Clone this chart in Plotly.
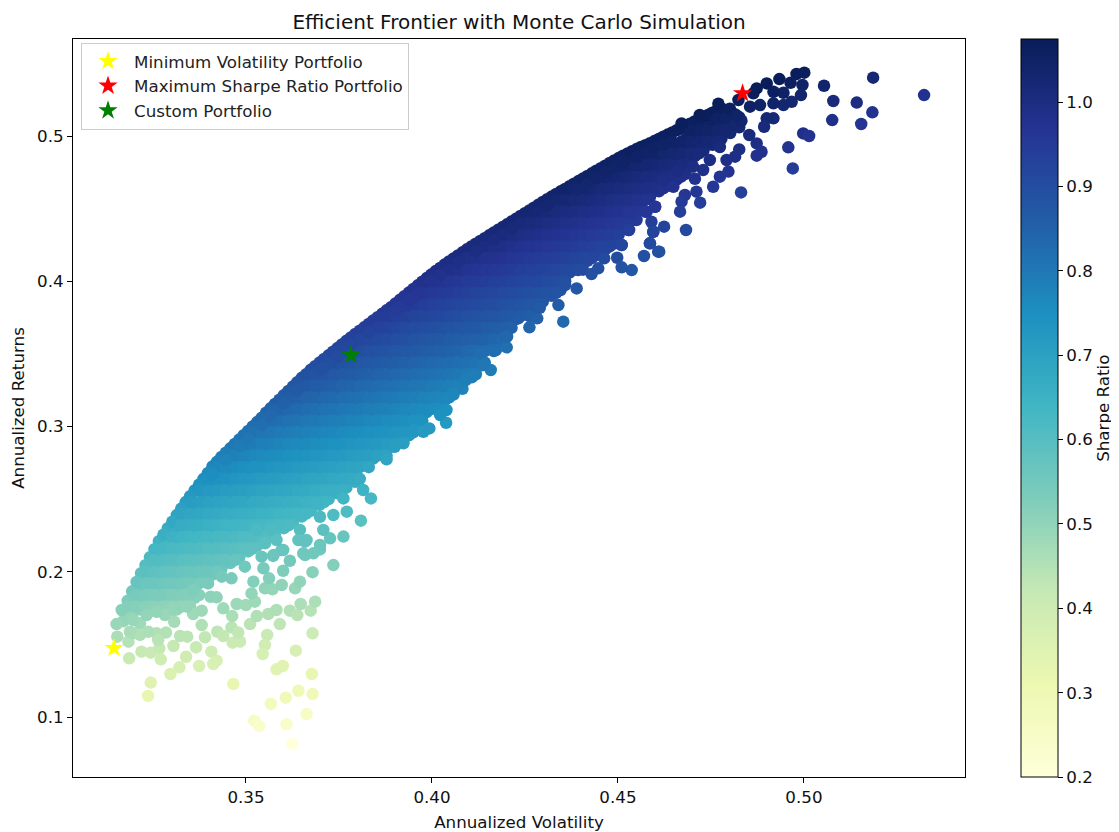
import plotly.graph_objects as go

risk_free = 0.01

body_vol = [.3170,.3194,.3218,.3242,.3266,.3290,.3314,.3338,.3362,.3386,.3410,.3434,.3458,.3482,.3506,.3530,.3554,.3578,.3602,.3626,.3650,.3674,.3698,.3722,.3746,.3770,.3794,.3818,.3842,.3866,.3890,.3914,.3938,.3962,.3986,.4010,.4034,.4058,.4082,.4106,.4130,.4154,.4178,.4202,.4226,.4250,.4274,.4298,.4322,.4346,.4370,.4394,.4418,.4442,.4466,.4490,.4514,.4538,.4562,.4586,.4610,.4634,.4658,.4682,.4706,.4730,.4754,.4778,.4802,.4826]

body_ret = [
[.173,.166],
[.1865,.178,.170],
[.199,.190,.182,.174],
[.210,.202,.194,.186,.178],
[.221,.214,.206,.198,.190,.182,.174],
[.230,.218,.210,.202,.194,.186,.178],
[.239,.230,.222,.214,.206,.198,.190,.182,.174],
[.248,.242,.234,.226,.218,.210,.202,.194,.186,.178],
[.256,.246,.238,.230,.222,.214,.206,.198,.190,.182],
[.264,.258,.250,.242,.234,.226,.218,.210,.202,.194],
[.2725,.262,.254,.246,.238,.230,.222,.214,.206,.198],
[.279,.274,.266,.258,.250,.242,.234,.226,.218,.210,.202],
[.285,.278,.270,.262,.254,.246,.238,.230,.222,.214,.206],
[.291,.282,.274,.266,.258,.250,.242,.234,.226,.218,.210],
[.297,.286,.278,.270,.262,.254,.246,.238,.230,.222,.214],
[.303,.298,.290,.282,.274,.266,.258,.250,.242,.234,.226,.218],
[.3095,.302,.294,.286,.278,.270,.262,.254,.246,.238,.230,.222],
[.3155,.306,.298,.290,.282,.274,.266,.258,.250,.242,.234,.226],
[.3215,.310,.302,.294,.286,.278,.270,.262,.254,.246,.238,.230],
[.3275,.322,.314,.306,.298,.290,.282,.274,.266,.258,.250,.242,.234],
[.3335,.326,.318,.310,.302,.294,.286,.278,.270,.262,.254,.246,.238],
[.339,.330,.322,.314,.306,.298,.290,.282,.274,.266,.258,.250,.242],
[.344,.334,.326,.318,.310,.302,.294,.286,.278,.270,.262,.254,.246],
[.349,.338,.330,.322,.314,.306,.298,.290,.282,.274,.266,.258,.250],
[.354,.342,.334,.326,.318,.310,.302,.294,.286,.278,.270,.262,.254],
[.359,.354,.346,.338,.330,.322,.314,.306,.298,.290,.282,.274,.266,.258],
[.3637,.358,.350,.342,.334,.326,.318,.310,.302,.294,.286,.278,.270,.262],
[.3683,.362,.354,.346,.338,.330,.322,.314,.306,.298,.290,.282,.274],
[.373,.366,.358,.350,.342,.334,.326,.318,.310,.302,.294,.286,.278],
[.3776,.370,.362,.354,.346,.338,.330,.322,.314,.306,.298,.290,.282],
[.3822,.374,.366,.358,.350,.342,.334,.326,.318,.310,.302,.294,.286],
[.3872,.378,.370,.362,.354,.346,.338,.330,.322,.314,.306,.298,.290],
[.3922,.382,.374,.366,.358,.350,.342,.334,.326,.318,.310,.302,.294],
[.3972,.386,.378,.370,.362,.354,.346,.338,.330,.322,.314,.306,.298],
[.4022,.398,.390,.382,.374,.366,.358,.350,.342,.334,.326,.318,.310],
[.407,.402,.394,.386,.378,.370,.362,.354,.346,.338,.330,.322,.314],
[.4115,.406,.398,.390,.382,.374,.366,.358,.350,.342,.334,.326,.318],
[.4157,.410,.402,.394,.386,.378,.370,.362,.354,.346,.338,.330,.322],
[.4199,.414,.406,.398,.390,.382,.374,.366,.358,.350,.342,.334,.326],
[.424,.418,.410,.402,.394,.386,.378,.370,.362,.354,.346,.338],
[.4278,.422,.414,.406,.398,.390,.382,.374,.366,.358,.350,.342],
[.4316,.426,.418,.410,.402,.394,.386,.378,.370,.362,.354],
[.4354,.430,.422,.414,.406,.398,.390,.382,.374,.366,.358],
[.4392,.434,.426,.418,.410,.402,.394,.386,.378,.370,.362],
[.443,.438,.430,.422,.414,.406,.398,.390,.382,.374],
[.4469,.442,.434,.426,.418,.410,.402,.394,.386,.378],
[.4507,.446,.438,.430,.422,.414,.406,.398,.390,.382],
[.4546,.450,.442,.434,.426,.418,.410,.402,.394,.386],
[.4583,.454,.446,.438,.430,.422,.414,.406,.398,.390],
[.4619,.458,.450,.442,.434,.426,.418,.410,.402,.394],
[.4654,.462,.454,.446,.438,.430,.422,.414,.406],
[.469,.458,.450,.442,.434,.426,.418,.410],
[.4725,.462,.454,.446,.438,.430,.422,.414],
[.4761,.466,.458,.450,.442,.434,.426,.418],
[.4796,.470,.462,.454,.446,.438,.430,.422],
[.4832,.474,.466,.458,.450,.442,.434,.426],
[.4865,.478,.470,.462,.454,.446,.438],
[.4895,.482,.474,.466,.458,.450,.442],
[.4925,.486,.478,.470,.462,.454],
[.495,.490,.482,.474,.466,.458],
[.498,.494,.486,.478,.470,.462],
[.501,.490,.482,.474,.466],
[.504,.494,.486,.478,.470],
[.507,.498,.490,.482,.474],
[.510,.502,.494,.486],
[.513,.506,.498,.490],
[.516,.510,.502,.494],
[.519,.514,.506,.498],
[.517,.510,.502],
[.513,.506],
]

mid_vol = [.3182,.3206,.3230,.3254,.3278,.3302,.3326,.3350,.3374,.3398,.3422,.3446,.3470,.3494,.3518,.3542,.3566,.3590,.3614,.3638,.3662,.3686,.3710,.3734,.3758,.3782,.3806,.3830,.3854,.3878,.3902,.3926,.3950,.3974,.3998,.4022,.4046,.4070,.4094,.4118,.4142,.4166,.4190,.4214,.4238,.4262,.4286,.4310,.4334,.4358,.4382,.4406,.4430,.4454,.4478,.4502,.4526,.4550,.4574,.4598,.4622,.4646,.4670,.4694,.4718,.4742,.4766,.4790,.4814]

mid_ret = [
[.180,.176,.168],
[.193,.184,.176],
[.2045,.200,.192,.184,.176],
[.2155,.208,.200,.192,.184,.176],
[.2255,.216,.208,.200,.192,.184,.176],
[.2345,.224,.216,.208,.200,.192,.184,.176],
[.2435,.240,.232,.224,.216,.208,.200,.192,.184,.176],
[.252,.248,.240,.232,.224,.216,.208,.200,.192,.184,.176],
[.260,.256,.248,.240,.232,.224,.216,.208,.200,.192,.184],
[.268,.264,.256,.248,.240,.232,.224,.216,.208,.200,.192],
[.2757,.272,.264,.256,.248,.240,.232,.224,.216,.208,.200],
[.282,.272,.264,.256,.248,.240,.232,.224,.216,.208],
[.288,.280,.272,.264,.256,.248,.240,.232,.224,.216,.208],
[.294,.288,.280,.272,.264,.256,.248,.240,.232,.224,.216],
[.300,.296,.288,.280,.272,.264,.256,.248,.240,.232,.224,.216],
[.306,.296,.288,.280,.272,.264,.256,.248,.240,.232,.224],
[.3125,.304,.296,.288,.280,.272,.264,.256,.248,.240,.232,.224],
[.3185,.312,.304,.296,.288,.280,.272,.264,.256,.248,.240,.232],
[.3245,.320,.312,.304,.296,.288,.280,.272,.264,.256,.248,.240,.232],
[.3305,.320,.312,.304,.296,.288,.280,.272,.264,.256,.248,.240],
[.336,.328,.320,.312,.304,.296,.288,.280,.272,.264,.256,.248,.240],
[.3415,.336,.328,.320,.312,.304,.296,.288,.280,.272,.264,.256,.248],
[.3465,.336,.328,.320,.312,.304,.296,.288,.280,.272,.264,.256,.248],
[.3515,.344,.336,.328,.320,.312,.304,.296,.288,.280,.272,.264,.256],
[.3565,.352,.344,.336,.328,.320,.312,.304,.296,.288,.280,.272,.264,.256],
[.3613,.352,.344,.336,.328,.320,.312,.304,.296,.288,.280,.272,.264],
[.366,.360,.352,.344,.336,.328,.320,.312,.304,.296,.288,.280,.272,.264],
[.3706,.360,.352,.344,.336,.328,.320,.312,.304,.296,.288,.280,.272],
[.3753,.368,.360,.352,.344,.336,.328,.320,.312,.304,.296,.288,.280],
[.380,.376,.368,.360,.352,.344,.336,.328,.320,.312,.304,.296,.288,.280],
[.3847,.376,.368,.360,.352,.344,.336,.328,.320,.312,.304,.296,.288],
[.3897,.384,.376,.368,.360,.352,.344,.336,.328,.320,.312,.304,.296],
[.3947,.384,.376,.368,.360,.352,.344,.336,.328,.320,.312,.304,.296],
[.3997,.392,.384,.376,.368,.360,.352,.344,.336,.328,.320,.312,.304],
[.4046,.400,.392,.384,.376,.368,.360,.352,.344,.336,.328,.320,.312],
[.4092,.400,.392,.384,.376,.368,.360,.352,.344,.336,.328,.320,.312],
[.4136,.408,.400,.392,.384,.376,.368,.360,.352,.344,.336,.328,.320],
[.4178,.408,.400,.392,.384,.376,.368,.360,.352,.344,.336,.328],
[.422,.416,.408,.400,.392,.384,.376,.368,.360,.352,.344,.336],
[.4259,.416,.408,.400,.392,.384,.376,.368,.360,.352,.344,.336],
[.4297,.424,.416,.408,.400,.392,.384,.376,.368,.360,.352,.344],
[.4335,.424,.416,.408,.400,.392,.384,.376,.368,.360,.352],
[.4373,.432,.424,.416,.408,.400,.392,.384,.376,.368,.360],
[.4411,.432,.424,.416,.408,.400,.392,.384,.376,.368],
[.445,.440,.432,.424,.416,.408,.400,.392,.384,.376],
[.4488,.440,.432,.424,.416,.408,.400,.392,.384,.376],
[.4526,.448,.440,.432,.424,.416,.408,.400,.392,.384],
[.4565,.448,.440,.432,.424,.416,.408,.400,.392],
[.4601,.456,.448,.440,.432,.424,.416,.408,.400,.392],
[.4636,.456,.448,.440,.432,.424,.416,.408,.400],
[.4672,.464,.456,.448,.440,.432,.424,.416,.408],
[.4707,.464,.456,.448,.440,.432,.424,.416,.408],
[.4743,.464,.456,.448,.440,.432,.424,.416],
[.4778,.472,.464,.456,.448,.440,.432,.424],
[.4814,.472,.464,.456,.448,.440,.432,.424],
[.4848,.480,.472,.464,.456,.448,.440,.432],
[.488,.480,.472,.464,.456,.448,.440],
[.491,.480,.472,.464,.456,.448],
[.4937,.488,.480,.472,.464,.456],
[.4965,.488,.480,.472,.464],
[.4995,.488,.480,.472,.464],
[.5025,.496,.488,.480,.472],
[.5055,.496,.488,.480,.472],
[.5085,.504,.496,.488],
[.5115,.504,.496,.488],
[.5145,.504,.496],
[.5175,.512,.504,.496],
[.518,.512,.504],
[.515,.508],
]

edge_vol = [.3410,.3482,.3506,.3554,.3578,.3602,.3698,.3722,.3746,.3914,.3938,.3962,.4394,.4418,.4442,.4466,.4490,.4514,.3566,.3638,.3710,.3782,.3830,.3902,.3950,.4022,.4070,.4118,.4166,.4214,.4310,.4550,.4598,.4622,.3446,.3542]
edge_ret = [.267,.2865,.2915,.3055,.311,.316,.339,.3435,.348,.3825,.387,.3915,.4635,.467,.471,.475,.4785,.482,.308,.325,.341,.3565,.365,.380,.389,.4045,.413,.421,.4285,.4365,.452,.4855,.4925,.494,.277,.301]

scatter_vol = [
.3186,.3154,.3152,.3166,.3184,.3197,.3219,.3244,.3267,.3271,.3260,.3285,.3305,.3307,.3323,.3342,.3339,.3321,.3297,.3374,.3366,.3390,.3381,.3358,.3381,.3407,.3421,.3412,.3423,.3439,.3464,.3484,.3461,.3479,.3463,.3439,.3405,.3421,.3475,.3500,.3524,.3520,.3515,.3511,.3529,.3560,.3582,.3591,.3557,.3551,.3545,.3551,.3571,.3562,.3596,.3632,.3645,.3618,.3600,.3679,.3735,.3618,.3638,.3647,.3674,.3686,.3679,.3634,.3599,.3582,.3677,.3466,.3244,.3237,.3641,.3679,.3607,.3567,.3663,.3522,.3536,.3609,.3625,
.3659,.3699,.3659,.3574,.3542,.3497,.3547,.3461,.3435,.3358,.3600,.3215,.3282,.3305,.3197,.3233,.3323,.3341,.3260,.3215,.3237,.3188,.3264,
.3836,.3809,.3762,.3771,.3726,.3708,.3699,.3690,.3699,.3735,.3645,.3641,.3663,.3654,.3681,.3596,.3573,.3815,.3878,.3923,.3900,.3762,.3582,.3551,.3565,.3529,
.3923,.3950,.3977,.3993,.4038,.4022,.4039,.4057,.4091,.4107,.4158,.4138,.4129,.4172,.4201,.4199,.4262,.4283,.4290,.4232,.4353,.4340,.4389,.4358,.4429,.4393,.4447,.4463,.4456,.4498,.4537,.4510,.4570,.4510,.4528,.4586,.4608,.4595,.4590,.4550,.4573,.4600,.4416,
.5323,.5186,.5054,.5079,.5142,.5184,.5076,.5154,.5001,.4980,.4996,.4992,.4967,.4945,.4964,.4934,.4945,.4900,.4873,.4918,.4882,.4855,.4824,.4918,.4918,.4900,.4893,.4853,.4873,.4886,.4873,.4998,.5014,.4958,.4970,.4831,.4826,.4815,.4792,.4797,.4774,.4756,.4729,.4747,.4662,.4711,.4721,.4680,.4671,.4667,.4683,.4624,.4595,.4586,.4600,.4577,.4530,.4510,.4611,.4774,.4702,.4707,.4770,.4720,.4671,.4801,.4832,.4819,.4649,.4622,.4532,.4864,
]

scatter_ret = [
.1404,.1553,.1640,.1737,.1519,.1576,.1450,.1443,.1473,.1397,.1576,.1581,.1489,.1656,.1558,.1553,.1415,.1342,.1296,.1351,.1480,.1549,.1633,.1709,.1732,.1450,.1388,.1365,.1587,.1558,.1512,.1519,.1617,.1581,.1695,.1748,.1828,.1824,.1778,.1771,.1794,.1932,.1851,.1640,.1695,.1709,.1737,.1640,.1565,.1496,.1434,.1886,.1879,.1955,.1909,.1886,.1932,.2076,.2007,.1997,.2046,.1732,.1702,.1778,.1732,.1794,.1576,.1457,.1351,.1328,.1296,.1227,.1237,.1145,.1181,.1158,.1133,.1090,.1021,.0975,.0938,.0950,.0814,
.2115,.2154,.2207,.2115,.2104,.2035,.2024,.1955,.1966,.1874,.2150,.1645,.1702,.1737,.1668,.1702,.1760,.1760,.1725,.1565,.1587,.1587,.1530,
.2505,.2352,.2242,.2414,.2230,.2288,.2184,.2471,.2379,.2391,.2288,.2218,.2218,.2127,.2127,.2150,.2109,.2563,.2774,.2889,.2861,.2505,.2219,.2196,.2288,.2288,
.2884,.2976,.2964,.2987,.3026,.3079,.3114,.3228,.3320,.3339,.3389,.3423,.3504,.3527,.3545,.3618,.3683,.3745,.3818,.3745,.3722,.3836,.3951,.3974,.4050,.4077,.4089,.4158,.4234,.4162,.4077,.4096,.4174,.4250,.4353,.4261,.4204,.4341,.4410,.4422,.4479,.4513,.4158,
.5282,.5402,.5346,.5241,.5230,.5163,.5110,.5083,.5436,.5427,.5351,.5282,.5236,.5213,.5367,.5392,.5298,.5362,.5328,.5305,.5213,.5202,.5248,.5225,.5122,.5122,.5064,.5007,.4949,.4892,.4865,.5018,.5000,.4922,.4777,.4612,.4908,.4858,.4835,.4755,.4720,.4651,.4766,.4835,.4759,.4617,.4541,.4594,.4548,.4479,.4353,.4376,.4341,.4261,.4513,.4479,.4353,.4250,.4204,.4924,.4789,.4706,.5222,.5145,.5087,.5188,.5105,.5142,.4651,.4697,.4467,.5294,
]

special_names = ["Minimum Volatility Portfolio", "Maximum Sharpe Ratio Portfolio", "Custom Portfolio"]
special_vol = [0.3145, 0.4835, 0.3782]
special_ret = [0.1475, 0.5294, 0.3492]
special_col = ["yellow", "red", "green"]

xticks = [0.35, 0.40, 0.45, 0.50]
yticks = [0.1, 0.2, 0.3, 0.4, 0.5]
cticks = [0.2, 0.3, 0.4, 0.5, 0.6, 0.7, 0.8, 0.9, 1.0]

vols = ([v for v, col in zip(body_vol, body_ret) for _ in col]
        + [v for v, col in zip(mid_vol, mid_ret) for _ in col] + edge_vol + scatter_vol)
rets = [r for col in body_ret for r in col] + [r for col in mid_ret for r in col] + edge_ret + scatter_ret
sharpe = [(r - risk_free) / v for v, r in zip(vols, rets)]

FONT = "DejaVu Sans"
TXT = 16.7
fig = go.Figure()
fig.add_trace(go.Scatter(
    x=vols, y=rets, mode="markers", showlegend=False, hoverinfo="skip",
    marker=dict(size=12.5, color=sharpe, colorscale="YlGnBu", cmin=0.2, cmax=1.075,
                line=dict(width=0),
                colorbar=dict(x=1.0628, xanchor="left", y=0.5, yanchor="middle", len=1, lenmode="fraction",
                              thickness=37, thicknessmode="pixels", outlinewidth=1, outlinecolor="black",
                              ticks="outside", ticklen=5, tickcolor="black", tickvals=cticks,
                              ticktext=[f"{t:.1f}" for t in cticks], xpad=0, ypad=0,
                              tickfont=dict(size=TXT, color="#111", family=FONT))),
))
for n, vx, vy, c in zip(special_names, special_vol, special_ret, special_col):
    fig.add_trace(go.Scatter(x=[vx], y=[vy], mode="markers", name=n,
                             marker=dict(symbol="star", size=14.5, color=c, line=dict(width=0))))

fig.update_layout(
    width=1111, height=824, autosize=False,
    margin=dict(l=65, r=154, t=31, b=55, pad=0, autoexpand=False),
    paper_bgcolor="white", plot_bgcolor="white",
    font=dict(family=FONT, size=TXT, color="#111"),
    title=dict(text="Efficient Frontier with Monte Carlo Simulation", x=0.46, xanchor="center",
               y=0.983, yanchor="middle", font=dict(size=20, color="#111", family=FONT)),
    legend=dict(x=0.009, y=0.995, xanchor="left", yanchor="top", bgcolor="rgba(255,255,255,0.8)",
                bordercolor="#ccc", borderwidth=1, itemwidth=42,
                font=dict(size=TXT, color="#222", family=FONT)),
    xaxis=dict(range=[0.3035, 0.5433], tickvals=xticks, ticktext=[f"{t:.2f}" for t in xticks], automargin=False,
               showgrid=False, zeroline=False, showline=True, mirror=True, linecolor="black", linewidth=1,
               ticks="outside", ticklen=5, tickcolor="black", tickfont=dict(size=TXT),
               title=dict(text="Annualized Volatility", font=dict(size=TXT))),
    yaxis=dict(range=[0.0587, 0.5668], tickvals=yticks, ticktext=[f"{t:.1f}" for t in yticks], automargin=False,
               showgrid=False, zeroline=False, showline=True, mirror=True, linecolor="black", linewidth=1,
               ticks="outside", ticklen=5, tickcolor="black", tickfont=dict(size=TXT),
               title=dict(text="Annualized Returns", font=dict(size=TXT))),
    annotations=[dict(text="Sharpe Ratio", textangle=-90, xref="paper", yref="paper", x=1.1545, y=0.5,
                      xanchor="center", yanchor="middle", showarrow=False,
                      font=dict(size=TXT, color="#111", family=FONT))],
)
fig.write_html("out.html")
